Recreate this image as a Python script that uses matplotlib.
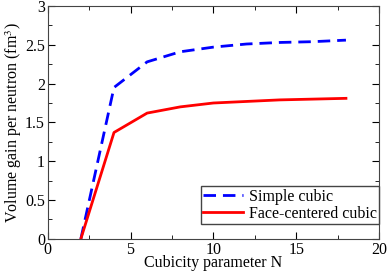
import numpy as np
import matplotlib
matplotlib.use("Agg")
import matplotlib.pyplot as plt
from matplotlib.ticker import MultipleLocator

plt.rcParams['font.family'] = ['Liberation Serif', 'DejaVu Serif']
plt.rcParams['mathtext.fontset'] = 'stix'

# ~~~~~~~~ data ~~~~~~~~
N = np.array([2, 4, 6, 8, 10, 12, 14, 16, 18])
sc = np.array([0.0, 1.95, 2.28, 2.41, 2.47, 2.51, 2.53, 2.54, 2.56])
fcc = np.array([0.0, 1.37, 1.62, 1.70, 1.75, 1.77, 1.79, 1.80, 1.81])
xticks = [0, 5, 10, 15, 20]
yticks = [0, 0.5, 1, 1.5, 2, 2.5, 3]
yticklabels = ['0', '0.5', '1', '1.5', '2', '2.5', '3']

fig = plt.figure(figsize=(3.88, 2.72), dpi=100)
ax = fig.add_axes([0.123, 0.122, 0.854, 0.856])

ax.plot(N, sc, color='blue', lw=2, ls=(0, (4.5, 2.5)), label='Simple cubic')
ax.plot(N, fcc, color='red', lw=2, label='Face-centered cubic')

ax.set_xlim(0, 20)
ax.set_ylim(0, 3)
ax.set_xticks(xticks)
ax.set_xticklabels([str(t) for t in xticks])
ax.xaxis.set_minor_locator(MultipleLocator(2.5))
ax.set_yticks(yticks)
ax.set_yticklabels(yticklabels)
ax.yaxis.set_minor_locator(MultipleLocator(0.25))
ax.tick_params(which='both', direction='in', top=True, right=True, labelsize=11.5, pad=2)
ax.tick_params(which='major', length=5)
ax.tick_params(which='minor', length=3)
for s in ax.spines.values():
    s.set_color('#444444')

ax.set_xlabel('Cubicity parameter N', fontsize=11.5, labelpad=-2)
ax.set_ylabel('Volume gain per neutron (fm$^3$)', fontsize=11.5, labelpad=1)

leg = ax.legend(loc='lower right', bbox_to_anchor=(1.0, 0.064), fontsize=11.5,
                fancybox=False, framealpha=1, edgecolor='#444444',
                borderpad=0.15, handlelength=2.5, handletextpad=0.35,
                labelspacing=0.05, borderaxespad=0)
leg.get_frame().set_linewidth(1)

fig.savefig('out.png', dpi=100)
